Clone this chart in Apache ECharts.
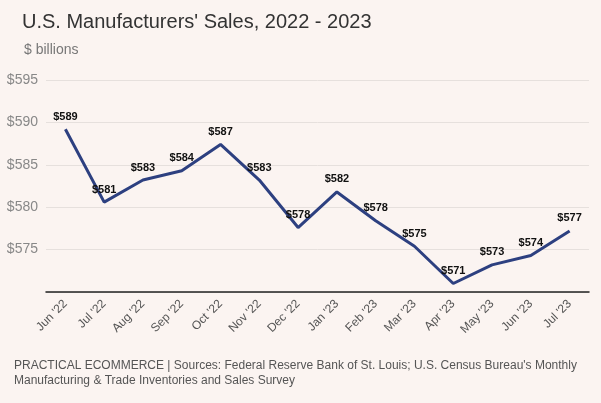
<!DOCTYPE html>
<html>
<head>
<meta charset="utf-8">
<script src="https://cdn.jsdelivr.net/npm/echarts@6/dist/echarts.min.js"></script>
<style>html,body{margin:0;padding:0;background:#fbf4f1;}#c{width:601px;height:403px;}</style>
</head>
<body>
<div id="c"></div>
<script>
const categories = ["Jun '22","Jul '22","Aug '22","Sep '22","Oct '22","Nov '22","Dec '22","Jan '23","Feb '23","Mar '23","Apr '23","May '23","Jun '23","Jul '23"];
const sales = [589.2, 580.6, 583.2, 584.3, 587.4, 583.2, 577.6, 581.8, 578.4, 575.4, 571.0, 573.2, 574.3, 577.2];
const yMin = 570, yMax = 595, yStep = 5;

const chart = echarts.init(document.getElementById('c'));
chart.setOption({
  backgroundColor: '#fbf4f1',
  animation: false,
  title: [
    {text: "U.S. Manufacturers' Sales, 2022 - 2023", left: 17, top: 7,
     textStyle: {fontFamily: 'Liberation Sans, Arial', fontSize: 20, fontWeight: 'normal', color: '#333'}},
    {text: '$ billions', left: 19, top: 38,
     textStyle: {fontFamily: 'Liberation Sans, Arial', fontSize: 14, fontWeight: 'normal', color: '#777'}},
    {text: "PRACTICAL ECOMMERCE | Sources: Federal Reserve Bank of St. Louis; U.S. Census Bureau's Monthly\nManufacturing & Trade Inventories and Sales Survey", left: 9, top: 353,
     textStyle: {fontFamily: 'Liberation Sans, Arial', fontSize: 12, fontWeight: 'normal', color: '#555', lineHeight: 15}}
  ],
  grid: {left: 46, right: 12, top: 80, bottom: 111},
  xAxis: {
    type: 'category', data: categories, boundaryGap: true,
    axisLine: {lineStyle: {color: '#222', width: 1.5}},
    axisTick: {show: false},
    axisLabel: {rotate: 45, color: '#555', fontSize: 12, fontFamily: 'Liberation Sans, Arial', margin: 10}
  },
  yAxis: {
    type: 'value', min: yMin, max: yMax, interval: yStep,
    axisLine: {show: false}, axisTick: {show: false},
    splitLine: {lineStyle: {color: '#e6e0dd'}},
    axisLabel: {color: '#888', fontSize: 14, fontFamily: 'Liberation Sans, Arial', margin: 8,
      formatter: v => v === yMin ? '' : '$' + v}
  },
  series: [{
    type: 'line', data: sales, symbol: 'circle', symbolSize: 4, showSymbol: true,
    itemStyle: {color: 'rgba(45,64,128,0)'},
    lineStyle: {color: '#2d4080', width: 3},
    label: {show: true, position: 'top', distance: 5, color: '#111', opacity: 1, fontWeight: 'bold', fontSize: 11,
      fontFamily: 'Liberation Sans, Arial', formatter: p => '$' + Math.round(p.value)}
  }]
});
</script>
</body>
</html>
